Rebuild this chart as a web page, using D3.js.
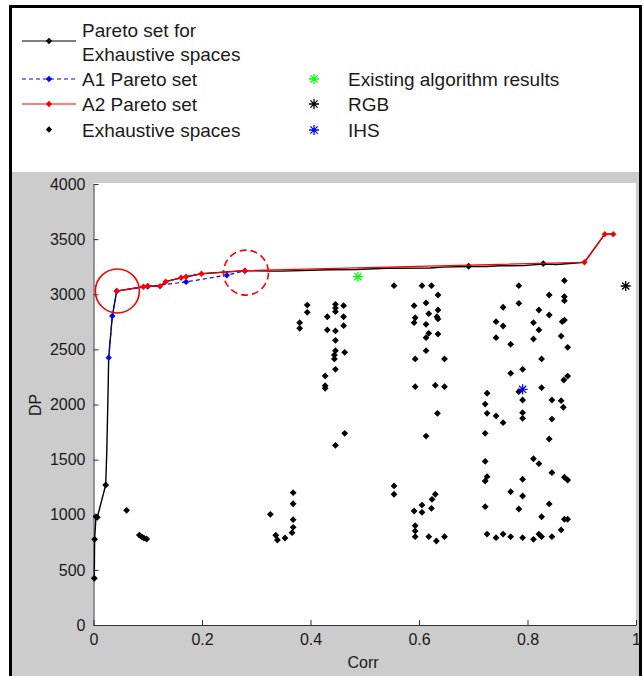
<!DOCTYPE html>
<html>
<head>
<meta charset="utf-8">
<script src="https://cdn.jsdelivr.net/npm/d3@7"></script>
<style>
  body { margin: 0; background: #fff; }
  text { font-family: "Liberation Sans", Arial, sans-serif; fill: #1a1a1a; }
</style>
</head>
<body>
<div id="chart"></div>
<script>
// exhaustive spaces (Corr, DP)
const exhaustive = [
  [0.0015, 424], [0.002, 777], [0.0046, 982], [0.007, 977], [0.0225, 1270],
  [0.061, 1040], [0.0845, 816], [0.089, 800], [0.093, 788], [0.098, 780],
  [0.394, 2902], [0.394, 2836], [0.380, 2742], [0.380, 2691], [0.446, 2909], [0.461, 2896],
  [0.446, 2875], [0.446, 2842], [0.431, 2796], [0.461, 2796], [0.431, 2676], [0.446, 2667],
  [0.461, 2715], [0.446, 2582], [0.446, 2488], [0.444, 2449], [0.444, 2413], [0.463, 2473],
  [0.446, 2319], [0.427, 2259], [0.427, 2171], [0.427, 2147], [0.463, 1739], [0.446, 1630],
  [0.368, 1200], [0.368, 1100], [0.326, 1004], [0.368, 955], [0.368, 886], [0.366, 837],
  [0.336, 814], [0.339, 771], [0.353, 789],
  [0.554, 3078], [0.6055, 3078], [0.623, 3078], [0.635, 2993], [0.591, 2896], [0.613, 2921],
  [0.618, 2824], [0.635, 2857], [0.593, 2787], [0.591, 2742], [0.633, 2796], [0.635, 2776],
  [0.613, 2727], [0.618, 2646], [0.613, 2606], [0.635, 2639], [0.613, 2488], [0.593, 2413],
  [0.647, 2413], [0.593, 2162], [0.630, 2174], [0.647, 2162], [0.634, 1920], [0.613, 1714],
  [0.554, 1261], [0.554, 1186], [0.630, 1186], [0.624, 1140], [0.6055, 1088], [0.591, 1034],
  [0.6055, 1022], [0.623, 1058], [0.593, 901], [0.593, 853], [0.593, 801], [0.618, 801],
  [0.632, 762], [0.647, 801],
  [0.6915, 3254], [0.829, 3278],
  [0.784, 3078], [0.840, 2993], [0.755, 2882], [0.784, 2918], [0.821, 2857], [0.840, 2812],
  [0.742, 2751], [0.755, 2712], [0.811, 2742], [0.821, 2676], [0.742, 2606], [0.769, 2546],
  [0.811, 2594], [0.826, 2413], [0.769, 2283], [0.791, 2319], [0.7255, 2102], [0.784, 2116],
  [0.826, 2153], [0.791, 2041], [0.845, 2041], [0.722, 2004], [0.7255, 1920], [0.742, 1896],
  [0.755, 1835], [0.791, 1926], [0.791, 1875], [0.845, 1868], [0.722, 1739], [0.840, 1687],
  [0.722, 1485], [0.811, 1508], [0.821, 1463], [0.845, 1382], [0.7255, 1345], [0.722, 1306],
  [0.791, 1322], [0.769, 1209], [0.791, 1170], [0.722, 1073], [0.784, 1052], [0.840, 1098],
  [0.826, 982], [0.7255, 825], [0.742, 792], [0.755, 825], [0.769, 801], [0.791, 792],
  [0.811, 777], [0.821, 825], [0.826, 801], [0.845, 801],
  [0.868, 3123], [0.868, 2978], [0.868, 2942], [0.864, 2751], [0.868, 2766], [0.862, 2621],
  [0.874, 2519], [0.867, 2222], [0.874, 2258], [0.862, 2035], [0.866, 1975], [0.868, 1340],
  [0.874, 1315], [0.868, 959], [0.874, 959], [0.862, 862]
];

// Pareto set for exhaustive spaces (line only, points are in exhaustive)
const paretoExhaustive = [
  [0.0015, 424], [0.002, 777], [0.0046, 982], [0.007, 977], [0.0225, 1270], [0.0245, 1575],
  [0.027, 2150], [0.028, 2425], [0.0347, 2803], [0.0428, 3029], [0.092, 3068], [0.1, 3075],
  [0.1227, 3072], [0.133, 3114], [0.1614, 3150], [0.1707, 3159], [0.199, 3186], [0.279, 3214],
  [0.333, 3210], [0.347, 3210], [0.435, 3222], [0.485, 3224], [0.541, 3236], [0.621, 3238],
  [0.644, 3246], [0.6915, 3252], [0.724, 3252], [0.749, 3258], [0.793, 3260], [0.829, 3274],
  [0.853, 3270], [0.866, 3274], [0.905, 3290], [0.9425, 3545], [0.958, 3545]
];

const a1Pareto = [
  [0.028, 2425], [0.0347, 2803], [0.0428, 3029], [0.1, 3070], [0.1707, 3112], [0.2457, 3173], [0.279, 3212]
];

const a2Pareto = [
  [0.0428, 3029], [0.092, 3068], [0.1, 3075], [0.1227, 3072], [0.133, 3114], [0.1614, 3150],
  [0.1707, 3159], [0.199, 3186], [0.279, 3214], [0.905, 3290], [0.9425, 3545], [0.958, 3545]
];

const existingResult = [[0.4874, 3159]];
const rgbResult = [[0.981, 3075]];
const ihsResult = [[0.791, 2138]];

// highlight circles: solid, dashed
const circleSolid = [0.044, 3030];
const circleDashed = [0.281, 3196];

const xTicks = [0, 0.2, 0.4, 0.6, 0.8, 1];
const yTicks = [0, 500, 1000, 1500, 2000, 2500, 3000, 3500, 4000];

const W = 644, H = 676;
const svg = d3.select("#chart").append("svg")
  .attr("width", W)
  .attr("height", H);

// figure background + frame
svg.append("rect").attr("x", 10).attr("y", 172).attr("width", 630).attr("height", H - 172).attr("fill", "#cccccc");
svg.append("path")
  .attr("d", `M10.5,${H + 5} V6.5 H640.5 V${H + 5}`)
  .attr("fill", "none")
  .attr("stroke", "#000")
  .attr("stroke-width", 3);

const x = d3.scaleLinear().domain([0, 1]).range([93.5, 636]);
const y = d3.scaleLinear().domain([0, 4000]).range([625, 184]);

svg.append("rect")
  .attr("x", x(0)).attr("y", y(4000) - 1)
  .attr("width", x(1) - x(0)).attr("height", y(0) - y(4000) + 1)
  .attr("fill", "#fff");

// axes, ticks pointing inward
const xAxis = svg.append("g")
  .attr("transform", `translate(0,${y(0)})`)
  .call(d3.axisBottom(x).tickValues(xTicks).tickFormat(d3.format("")).tickSizeInner(-5).tickSizeOuter(0).tickPadding(9));
const yAxis = svg.append("g")
  .attr("transform", `translate(${x(0)},0)`)
  .call(d3.axisLeft(y).tickValues(yTicks).tickFormat(d3.format("d")).tickSizeInner(-5).tickSizeOuter(0).tickPadding(8));
[xAxis, yAxis].forEach(g => {
  g.select(".domain").attr("stroke", "#333");
  g.selectAll(".tick line").attr("stroke", "#333");
  g.selectAll("text").attr("font-size", 16).attr("fill", "#222")
    .attr("font-family", "'Liberation Sans', Arial, sans-serif");
});

svg.append("text")
  .attr("x", 363).attr("y", 668)
  .attr("text-anchor", "middle")
  .attr("font-size", 16)
  .text("Corr");
svg.append("text")
  .attr("transform", `translate(41, 405) rotate(-90)`)
  .attr("text-anchor", "middle")
  .attr("font-size", 16)
  .text("DP");

const dot = r => `M0,${-r}L${r},0L0,${r}L${-r},0Z`;
const star = r => {
  const d = r * 0.72;
  return `M${-r},0H${r}M0,${-r}V${r}M${-d},${-d}L${d},${d}M${-d},${d}L${d},${-d}`;
};

const line = d3.line().x(d => x(d[0])).y(d => y(d[1]));

// exhaustive spaces
svg.append("g").selectAll("path")
  .data(exhaustive)
  .join("path")
  .attr("transform", d => `translate(${x(d[0])},${y(d[1])})`)
  .attr("d", dot(3.4))
  .attr("fill", "#000");

svg.append("path")
  .datum(paretoExhaustive)
  .attr("fill", "none")
  .attr("stroke", "#000")
  .attr("stroke-width", 1.4)
  .attr("d", line);

svg.append("path")
  .datum(a1Pareto)
  .attr("fill", "none")
  .attr("stroke", "#0000ff")
  .attr("stroke-width", 1.2)
  .attr("stroke-dasharray", "4,3")
  .attr("d", line);
svg.append("g").selectAll("path")
  .data(a1Pareto)
  .join("path")
  .attr("transform", d => `translate(${x(d[0])},${y(d[1])})`)
  .attr("d", dot(3.2))
  .attr("fill", "#0000ff");

svg.append("path")
  .datum(a2Pareto)
  .attr("fill", "none")
  .attr("stroke", "#ff0000")
  .attr("stroke-width", 1.2)
  .attr("d", line);
svg.append("g").selectAll("path")
  .data(a2Pareto)
  .join("path")
  .attr("transform", d => `translate(${x(d[0])},${y(d[1])})`)
  .attr("d", dot(3.2))
  .attr("fill", "#ff0000");

// highlight circles
svg.append("circle")
  .attr("cx", x(circleSolid[0])).attr("cy", y(circleSolid[1])).attr("r", 22)
  .attr("fill", "none").attr("stroke", "#ff0000").attr("stroke-width", 1.6);
svg.append("circle")
  .attr("cx", x(circleDashed[0])).attr("cy", y(circleDashed[1])).attr("r", 22.5)
  .attr("fill", "none").attr("stroke", "#ff0000").attr("stroke-width", 1.6)
  .attr("stroke-dasharray", "7,4");

// existing algorithm results
[[existingResult, "#00ff00"], [rgbResult, "#000"], [ihsResult, "#0000ff"]].forEach(([pts, c]) => {
  svg.append("g").selectAll("path")
    .data(pts)
    .join("path")
    .attr("transform", d => `translate(${x(d[0])},${y(d[1])})`)
    .attr("d", star(5))
    .attr("fill", "none")
    .attr("stroke", c)
    .attr("stroke-width", 1.3);
});

// legend
const legend = svg.append("g").attr("font-size", 19);
const leftRows = [
  { label: ["Pareto set for", "Exhaustive spaces"], y: 41, color: "#000", dash: null, line: true },
  { label: ["A1 Pareto set"], y: 79, color: "#0000ff", dash: "4,3", line: true },
  { label: ["A2 Pareto set"], y: 104, color: "#ff0000", dash: null, line: true },
  { label: ["Exhaustive spaces"], y: 129.5, color: "#000", dash: null, line: false }
];
leftRows.forEach(r => {
  if (r.line) {
    legend.append("line")
      .attr("x1", 22).attr("x2", 76).attr("y1", r.y).attr("y2", r.y)
      .attr("stroke", r.color).attr("stroke-width", 1.2)
      .attr("stroke-dasharray", r.dash);
  }
  legend.append("path")
    .attr("transform", `translate(49,${r.y})`)
    .attr("d", dot(3.2))
    .attr("fill", r.color);
  if (r.label.length === 2) {
    legend.append("text").attr("x", 82).attr("y", r.y - 4).text(r.label[0]);
    legend.append("text").attr("x", 82).attr("y", r.y + 20).text(r.label[1]);
  } else {
    legend.append("text").attr("x", 82).attr("y", r.y + 7).text(r.label[0]);
  }
});
const rightRows = [
  { label: "Existing algorithm results", y: 79, color: "#00ff00" },
  { label: "RGB", y: 104, color: "#000" },
  { label: "IHS", y: 130, color: "#0000ff" }
];
rightRows.forEach(r => {
  legend.append("path")
    .attr("transform", `translate(314,${r.y})`)
    .attr("d", star(5))
    .attr("fill", "none")
    .attr("stroke", r.color)
    .attr("stroke-width", 1.3);
  legend.append("text").attr("x", 348).attr("y", r.y + 7).text(r.label);
});
</script>
</body>
</html>
